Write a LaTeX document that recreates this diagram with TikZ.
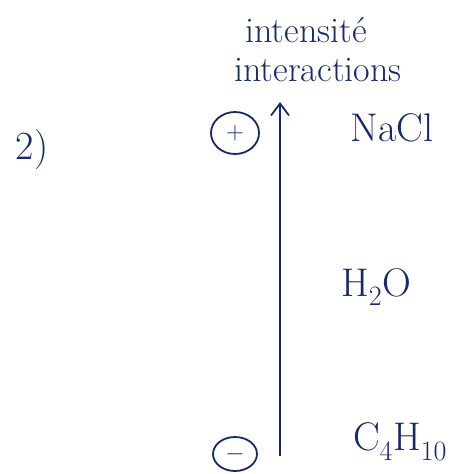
\documentclass[tikz,border=0pt]{standalone}
\usepackage{fontspec}
\usepackage{xcolor}
\usetikzlibrary{shapes.geometric, arrows.meta, positioning}

\definecolor{encre}{RGB}{22,42,105}

\begin{document}
\begin{tikzpicture}[
    x=1pt, y=-1pt,
    ecrit/.style={text=encre, font=\fontsize{40}{44}\selectfont, inner sep=0pt},
    titre/.style={text=encre, font=\fontsize{36}{38}\selectfont, inner sep=0pt},
    signe/.style={ellipse, draw=encre, line width=1.8pt, text=encre, inner sep=0pt, font=\fontsize{26}{28}\selectfont},
    fleche/.style={-{Straight Barb[length=12pt, width=18pt, line width=1.8pt]}, draw=encre, line width=1.8pt},
]
    \useasboundingbox (0,0) rectangle (471,474);

    \node[ecrit] (num) at (32,150) {2)};

    \node[titre] (intens) at (306,30) {intensité};
    \node[titre] (inter) at (318,70) {interactions};

    \coordinate (bas) at (280,456);
    \coordinate (haut) at (280,102);
    \draw[fleche] (bas) -- (haut);

    \node[signe, minimum width=48pt, minimum height=42pt] (plus) at (235,133) {$+$};
    \node[signe, minimum width=44pt, minimum height=34pt] (moins) at (235,454) {$-$};

    \node[ecrit] (nacl) at (392,128) {NaCl};
    \node[ecrit] (eau) at (376,287) {H\textsubscript{2}O};
    \node[ecrit] (butane) at (400,442) {C\textsubscript{4}H\textsubscript{10}};
\end{tikzpicture}
\end{document}
